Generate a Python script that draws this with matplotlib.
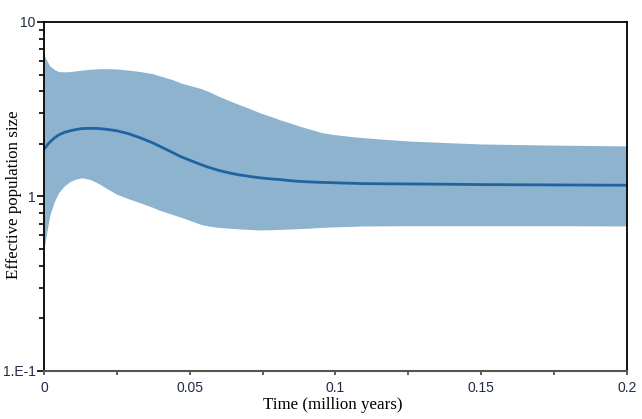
import numpy as np
import matplotlib
matplotlib.use("Agg")
import matplotlib.pyplot as plt
from matplotlib.ticker import FixedLocator, LogLocator, NullFormatter

# time (million years)
t = [0, 0.001, 0.002, 0.0035, 0.005, 0.007, 0.009, 0.011, 0.013, 0.016,
     0.019, 0.022, 0.025, 0.029, 0.033, 0.037, 0.040, 0.044, 0.047, 0.051,
     0.054, 0.057, 0.060, 0.064, 0.067, 0.071, 0.074, 0.078, 0.081, 0.085,
     0.088, 0.092, 0.095, 0.099, 0.102, 0.106, 0.110, 0.118, 0.125, 0.14,
     0.15, 0.175, 0.2]
# median effective population size
median = [1.87, 1.96, 2.05, 2.16, 2.25, 2.33, 2.38, 2.42, 2.45, 2.46,
          2.45, 2.42, 2.38, 2.29, 2.17, 2.04, 1.93, 1.79, 1.69, 1.59,
          1.52, 1.46, 1.41, 1.36, 1.33, 1.30, 1.28, 1.26, 1.25, 1.23,
          1.22, 1.21, 1.205, 1.20, 1.195, 1.19, 1.185, 1.182, 1.18, 1.175,
          1.17, 1.165, 1.16]
# 95% HPD bounds
upper = [6.5, 6.0, 5.6, 5.35, 5.2, 5.18, 5.2, 5.25, 5.3, 5.36,
         5.4, 5.4, 5.38, 5.3, 5.2, 5.07, 4.9, 4.68, 4.47, 4.28,
         4.15, 3.96, 3.75, 3.52, 3.36, 3.17, 3.02, 2.87, 2.75, 2.62,
         2.52, 2.41, 2.33, 2.27, 2.24, 2.20, 2.17, 2.12, 2.08, 2.03,
         2.0, 1.97, 1.95]
lower = [0.50, 0.63, 0.78, 0.93, 1.05, 1.15, 1.22, 1.26, 1.28, 1.25,
         1.18, 1.10, 1.03, 0.97, 0.92, 0.87, 0.83, 0.79, 0.76, 0.72,
         0.69, 0.675, 0.665, 0.657, 0.652, 0.647, 0.643, 0.645, 0.648, 0.652,
         0.655, 0.66, 0.665, 0.669, 0.672, 0.675, 0.678, 0.679, 0.68, 0.68,
         0.68, 0.68, 0.678]

xticks = [0, 0.05, 0.1, 0.15, 0.2]
xticklabels = ["0", "0.05", "0.1", "0.15", "0.2"]
yticks = [0.1, 1, 10]
yticklabels = ["1.E-1", "1", "10"]

fig = plt.figure(figsize=(6.42, 4.19), dpi=100)
ax = fig.add_axes([0.0685, 0.1146, 0.9081, 0.8329])

ax.fill_between(t, lower, upper, color="#8db3cf", linewidth=0)
ax.plot(t, median, color="#1f64a0", linewidth=2)

ax.set_yscale("log")
ax.set_xlim(0, 0.2)
ax.set_ylim(0.1, 10)

tick_font = dict(family="Liberation Sans", size=10)
lab_color = "#1f2a44"
ax.set_xticks(xticks)
ax.set_xticklabels(xticklabels, color=lab_color, **tick_font)
ax.xaxis.set_minor_locator(FixedLocator([0.025, 0.075, 0.125, 0.175]))
ax.set_yticks(yticks)
ax.set_yticklabels(yticklabels, color=lab_color, **tick_font)
ax.yaxis.set_minor_locator(LogLocator(base=10, subs=np.arange(2, 10)))
ax.yaxis.set_minor_formatter(NullFormatter())

ax.tick_params(axis="x", which="both", direction="out", length=3, width=1.2, color="#444444", pad=4)
ax.tick_params(axis="y", which="major", direction="out", length=5, width=1.2, pad=1)
ax.tick_params(axis="y", which="minor", direction="out", length=3.5, width=1.2)

for s in ["left", "top", "right"]:
    ax.spines[s].set_linewidth(1.3)
    ax.spines[s].set_color("black")
ax.spines["bottom"].set_linewidth(1.5)
ax.spines["bottom"].set_color("#555555")

ax.set_xlabel("Time (million years)", family="Liberation Serif", size=12.2)
ax.set_ylabel("Effective population size", family="Liberation Serif", size=12.2)
ax.xaxis.set_label_coords(0.496, -0.097)
ax.yaxis.set_label_coords(-0.0515, 0.506)
ax.xaxis.label.set_va("center")
ax.yaxis.label.set_va("center")

fig.savefig("out.png", dpi=100)
